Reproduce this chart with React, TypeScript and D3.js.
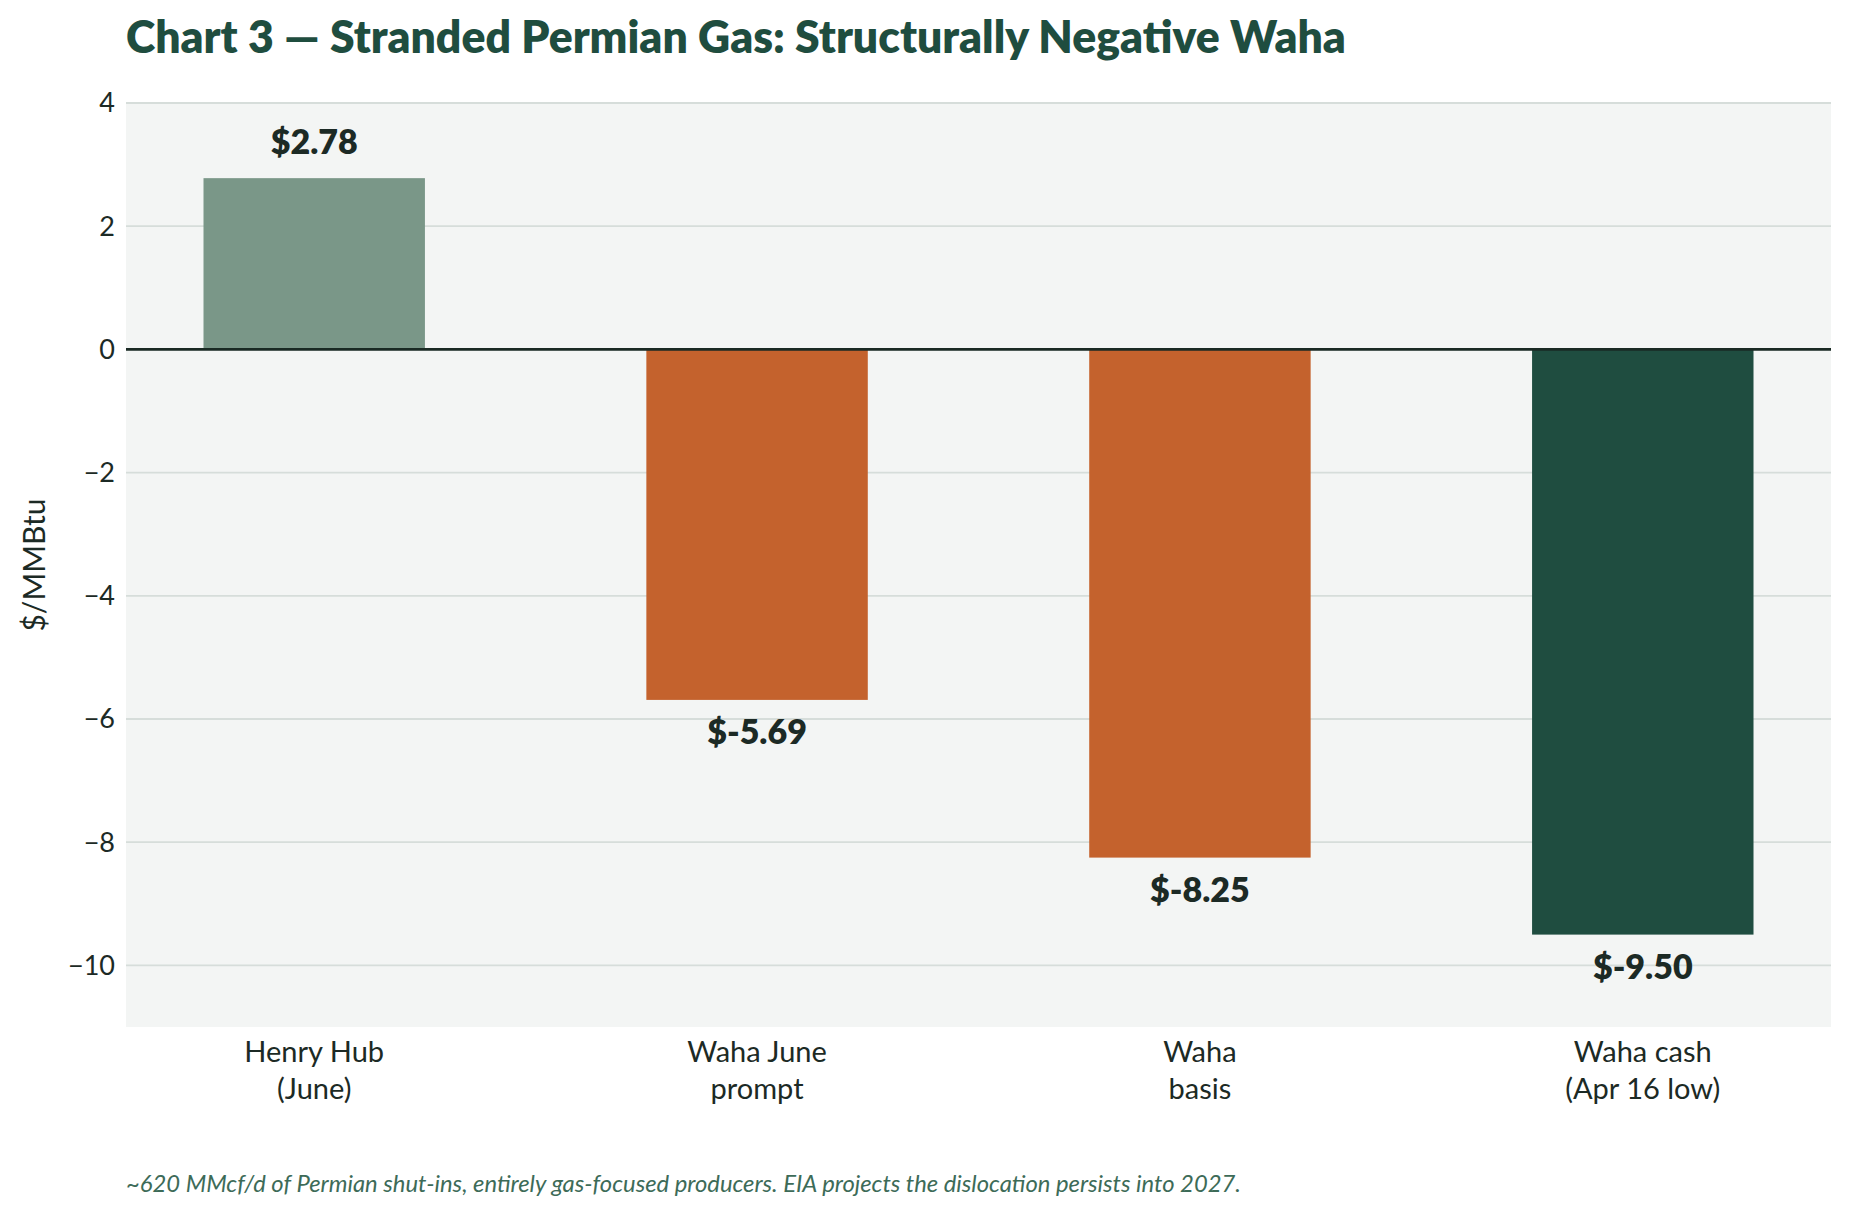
import { useEffect, useRef } from 'react';
import * as d3 from 'd3';

// Chart 3 — Waha vs Henry Hub prices ($/MMBtu)
const categories = ['Henry Hub\n(June)', 'Waha June\nprompt', 'Waha\nbasis', 'Waha cash\n(Apr 16 low)'];
const prices = [2.78, -5.69, -8.25, -9.5];
const barColors = ['#7a9788', '#c4622d', '#c4622d', '#1f4d40'];
const yTicks = [4, 2, 0, -2, -4, -6, -8, -10];

const title = 'Chart 3 — Stranded Permian Gas: Structurally Negative Waha';
const footnote =
  '~620 MMcf/d of Permian shut-ins, entirely gas-focused producers. EIA projects the dislocation persists into 2027.';

const W = 1850;
const H = 1218;
const FONT = "Lato, 'Open Sans', sans-serif";

export default function App() {
  const svgRef = useRef<SVGSVGElement>(null);

  useEffect(() => {
    if (!svgRef.current) return;
    const svg = d3.select(svgRef.current);
    svg.selectAll('*').remove();

    const left = 126;
    const right = 1831;
    const top = 103;
    const bottom = 1027;

    const x = d3.scaleBand<string>()
      .domain(categories)
      .range([left, right])
      .paddingInner(0.5)
      .paddingOuter(0.175);

    const y = d3.scaleLinear().domain([-11, 4]).range([bottom, top]);

    // plot background
    svg.append('rect')
      .attr('x', left)
      .attr('y', top)
      .attr('width', right - left)
      .attr('height', bottom - top)
      .attr('fill', '#f3f5f4');

    // gridlines
    svg.append('g')
      .selectAll('line')
      .data(yTicks)
      .join('line')
      .attr('x1', left)
      .attr('x2', right)
      .attr('y1', d => y(d))
      .attr('y2', d => y(d))
      .attr('stroke', '#d6ddda')
      .attr('stroke-width', 1.8);

    // y tick labels
    const fmt = d3.format('d');
    svg.append('g')
      .selectAll('text')
      .data(yTicks)
      .join('text')
      .attr('x', 115)
      .attr('y', d => y(d))
      .attr('dy', '0.35em')
      .attr('text-anchor', 'end')
      .attr('font-family', FONT)
      .attr('font-size', 27)
      .attr('fill', '#1c2a25')
      .text(d => fmt(d));

    // y axis label
    svg.append('text')
      .attr('transform', `translate(45, ${(top + bottom) / 2}) rotate(-90)`)
      .attr('text-anchor', 'middle')
      .attr('font-family', FONT)
      .attr('font-size', 30)
      .attr('fill', '#1c2a25')
      .text('$/MMBtu');

    // bars
    svg.append('g')
      .selectAll('rect')
      .data(prices)
      .join('rect')
      .attr('x', (_, i) => x(categories[i])!)
      .attr('width', x.bandwidth())
      .attr('y', d => y(Math.max(0, d)))
      .attr('height', d => Math.abs(y(d) - y(0)))
      .attr('fill', (_, i) => barColors[i]);

    // zero line
    svg.append('line')
      .attr('x1', left)
      .attr('x2', right)
      .attr('y1', y(0))
      .attr('y2', y(0))
      .attr('stroke', '#1a2a24')
      .attr('stroke-width', 2.6);

    // value labels
    svg.append('g')
      .selectAll('text')
      .data(prices)
      .join('text')
      .attr('x', (_, i) => x(categories[i])! + x.bandwidth() / 2)
      .attr('y', d => (d >= 0 ? y(d) - 24 : y(d) + 44))
      .attr('text-anchor', 'middle')
      .attr('font-family', FONT)
      .attr('font-weight', 800)
      .attr('font-size', 34)
      .attr('fill', '#1c2a25')
      .text(d => `$${d.toFixed(2)}`);

    // category labels
    const cat = svg.append('g')
      .selectAll('text')
      .data(categories)
      .join('text')
      .attr('text-anchor', 'middle')
      .attr('font-family', FONT)
      .attr('font-size', 29)
      .attr('fill', '#1c2a25');
    cat.each(function (d) {
      const cx = x(d)! + x.bandwidth() / 2;
      d.split('\n').forEach((line, k) => {
        d3.select(this)
          .append('tspan')
          .attr('x', cx)
          .attr('y', 1062 + k * 37)
          .text(line);
      });
    });

    // title
    svg.append('text')
      .attr('x', 126)
      .attr('y', 53)
      .attr('font-family', FONT)
      .attr('font-weight', 800)
      .attr('font-size', 44.5)
      .attr('fill', '#1f4d3f')
      .text(title);

    // footnote
    svg.append('text')
      .attr('x', 126)
      .attr('y', 1192)
      .attr('font-family', FONT)
      .attr('font-style', 'italic')
      .attr('font-size', 23.8)
      .attr('fill', '#3d6b58')
      .text(footnote);
  }, []);

  return (
    <svg
      ref={svgRef}
      width={W}
      height={H}
      style={{ position: 'absolute', left: 0, top: 0, background: '#ffffff' }}
    />
  );
}
